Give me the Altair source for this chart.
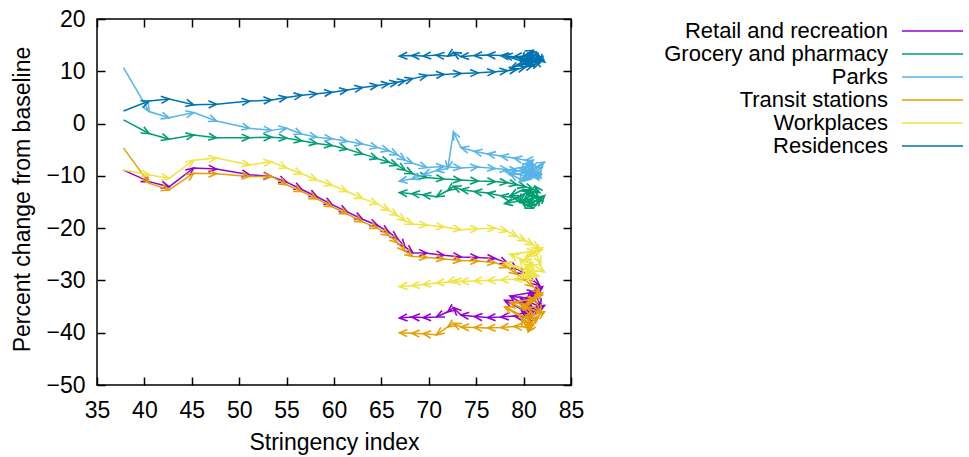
import math

import altair as alt
import pandas as pd

FONT = "Liberation Sans"
W, H = 474, 366
X_DOMAIN = [35, 85]
Y_DOMAIN = [-50, 20]
X_TICKS = list(range(35, 86, 5))
Y_TICKS = list(range(-50, 21, 10))

SERIES = ["Retail and recreation", "Grocery and pharmacy", "Parks",
          "Transit stations", "Workplaces", "Residences"]
COLORS = ["#9400d3", "#009e73", "#56b4e9", "#e69f00", "#f0e442", "#0072b2"]

# Stringency index, one value per observation (rising, plateau, easing)
stringency = [
    37.8, 40.5, 42.6, 45.2, 47.6, 51.1, 53.4, 55.0, 56.6, 58.2, 59.8, 61.4, 63.0, 64.6,
    65.8, 66.7, 67.5, 68.3, 69.8, 71.6, 73.4, 75.2, 77.0, 78.3, 79.3, 80.2, 81.0, 81.7,
    81.2, 80.4, 82.0, 80.0, 78.6, 81.2, 81.8, 80.3, 79.6, 81.0, 82.2, 80.1, 78.0, 80.7,
    81.6, 80.5, 79.8, 81.0,
    80.2, 79.0, 77.6, 76.2, 74.8, 73.4, 72.6, 72.0, 70.8, 69.4, 68.2, 66.9,
]

retail = [
    -8.9, -11.1, -12.1, -8.5, -8.7, -9.8, -10.1, -11.2, -12.6, -14.0, -15.5, -16.9, -18.3, -19.5,
    -20.8, -22.0, -23.6, -24.7, -24.8, -25.2, -25.5, -25.6, -25.8, -26.7, -27.8, -28.8, -30.0, -31.0,
    -32.0, -33.5, -31.2, -34.6, -33.0, -32.2, -35.0, -34.0, -33.2, -36.0, -34.8, -35.6, -33.8, -36.4,
    -35.2, -36.8, -35.8, -37.2,
    -37.0, -36.8, -37.0, -37.1, -36.9, -36.6, -35.2, -36.0, -37.0, -37.1, -37.0, -37.2,
]
grocery = [
    0.7, -1.9, -3.0, -2.2, -2.7, -2.7, -2.6, -2.8, -3.3, -3.8, -4.2, -4.9, -5.8, -6.7,
    -7.4, -8.0, -8.9, -9.6, -10.3, -10.6, -10.8, -11.0, -11.1, -11.3, -11.7, -12.1, -12.6, -13.2,
    -12.0, -13.5, -14.8, -12.6, -13.8, -15.6, -14.2, -13.0, -15.0, -16.2, -13.8, -14.6, -15.3, -12.9,
    -14.4, -15.8, -14.9, -15.2,
    -14.8, -14.2, -13.8, -13.3, -13.0, -12.6, -12.0, -12.8, -14.0, -13.6, -13.4, -13.2,
]
parks = [
    10.7, 2.3, 1.1, 2.1, 0.5, -0.9, -1.3, -0.9, -2.0, -2.6, -2.9, -3.4, -3.9, -4.6,
    -5.2, -6.0, -7.0, -7.6, -8.4, -8.2, -8.5, -8.3, -8.6, -8.8, -9.0, -9.4, -9.8, -10.2,
    -9.0, -10.6, -8.2, -11.0, -9.6, -7.8, -10.4, -9.2, -11.2, -8.6, -7.4, -10.0, -9.0, -8.0,
    -10.8, -7.6, -9.4, -7.0,
    -7.0, -6.6, -6.2, -5.8, -5.3, -4.6, -1.6, -8.6, -9.0, -9.8, -10.6, -11.0,
]
transit = [
    -4.7, -11.4, -12.7, -9.5, -9.6, -10.1, -10.1, -11.7, -13.0, -14.4, -15.9, -17.3, -18.8, -20.0,
    -21.4, -22.8, -24.4, -25.4, -25.6, -25.9, -26.2, -26.3, -26.6, -27.5, -28.8, -30.0, -31.2, -32.4,
    -33.0, -34.5, -32.4, -35.6, -34.2, -33.5, -36.2, -35.2, -34.4, -37.4, -36.0, -37.0, -35.0, -38.2,
    -36.8, -39.8, -37.2, -38.6,
    -38.9, -38.8, -39.0, -39.1, -39.0, -38.9, -38.2, -38.9, -40.4, -40.2, -40.1, -40.0,
]
workplaces = [
    -8.9, -9.8, -10.5, -7.0, -6.6, -7.9, -7.3, -8.5, -9.6, -10.8, -11.8, -13.0, -14.3, -15.4,
    -16.6, -17.6, -18.6, -19.2, -19.4, -19.8, -20.3, -20.1, -20.0, -20.6, -21.6, -22.4, -23.2, -23.8,
    -24.6, -25.4, -23.8, -26.2, -25.0, -24.4, -26.8, -27.4, -25.8, -27.0, -28.4, -27.8, -26.6, -28.8,
    -29.2, -28.0, -29.6, -29.3,
    -29.6, -29.8, -29.9, -30.0, -30.1, -30.2, -30.0, -30.3, -30.5, -30.8, -31.0, -31.2,
]
residences = [
    2.4, 4.3, 4.7, 3.6, 3.7, 4.3, 4.5, 5.0, 5.4, 5.7, 6.0, 6.4, 6.9, 7.3,
    7.6, 7.9, 8.2, 8.6, 9.2, 9.4, 9.6, 9.7, 9.9, 10.1, 10.4, 10.8, 11.2, 11.6,
    12.0, 11.0, 12.8, 11.5, 10.5, 13.2, 12.2, 11.0, 12.6, 14.0, 11.8, 12.4, 13.0, 11.4,
    12.9, 13.5, 12.1, 12.8,
    12.9, 12.8, 13.0, 13.1, 13.0, 12.8, 13.6, 12.9, 13.1, 12.9, 13.0, 12.9,
]

values = dict(zip(SERIES, [retail, grocery, parks, transit, workplaces, residences]))

# pixels per data unit, used to orient arrowheads along each segment on screen
px_x = W / (X_DOMAIN[1] - X_DOMAIN[0])
px_y = H / (Y_DOMAIN[1] - Y_DOMAIN[0])

x_scale = alt.Scale(domain=X_DOMAIN, nice=False, zero=False)
y_scale = alt.Scale(domain=Y_DOMAIN, nice=False, zero=False)
color_scale = alt.Scale(domain=SERIES, range=COLORS)
ARROW_HEAD = "M-1,-0.45L0,0L-1,0.45"

layers = []
for name in SERIES:
    ys = values[name]
    path = pd.DataFrame({"step": range(len(ys)), "stringency": stringency,
                         "change": ys, "series": name})
    heads = []
    for i in range(1, len(ys)):
        dx = (stringency[i] - stringency[i - 1]) * px_x
        dy = -(ys[i] - ys[i - 1]) * px_y
        heads.append({"stringency": stringency[i], "change": ys[i], "series": name,
                      "angle": math.degrees(math.atan2(dy, dx)) % 360})
    heads = pd.DataFrame(heads)

    line = alt.Chart(path).mark_line(strokeWidth=1.5).encode(
        x=alt.X("stringency:Q", scale=x_scale, axis=None),
        y=alt.Y("change:Q", scale=y_scale, axis=None),
        order="step:Q",
        color=alt.Color("series:N", scale=color_scale, legend=None),
    )
    tips = alt.Chart(heads).mark_point(
        shape=ARROW_HEAD, filled=False, size=250, strokeWidth=1.6, opacity=1
    ).encode(
        x=alt.X("stringency:Q", scale=x_scale, axis=None),
        y=alt.Y("change:Q", scale=y_scale, axis=None),
        angle=alt.Angle("angle:Q", scale=None),
        color=alt.Color("series:N", scale=color_scale, legend=None),
    )
    layers += [line, tips]

anchor = pd.DataFrame({"stringency": [X_DOMAIN[0]], "change": [Y_DOMAIN[0]]})

# labelled axes: bottom and left
main_axes = alt.Chart(anchor).mark_point(opacity=0, size=1).encode(
    x=alt.X("stringency:Q", scale=x_scale, axis=alt.Axis(
        orient="bottom", values=X_TICKS, ticks=False, tickSize=0, labelPadding=32,
        labelBaseline="alphabetic", labelFlush=False, labelOverlap=False,
        title="Stringency index", titleX=W / 2, titleY=64,
        titleBaseline="alphabetic", titleAlign="center")),
    y=alt.Y("change:Q", scale=y_scale, axis=alt.Axis(
        orient="left", values=Y_TICKS, ticks=False, tickSize=0, labelPadding=12,
        labelFlush=False, labelOverlap=False,
        title="Percent change from baseline", titleAngle=270, titleX=-75, titleY=180,
        titleAlign="center", titleBaseline="middle")),
)

# inward tick marks on all four sides of the frame
tick_axis = dict(labels=False, ticks=True, tickSize=8, title=None)
ticks_a = alt.Chart(anchor).mark_point(opacity=0, size=1).encode(
    x=alt.X("stringency:Q", scale=x_scale,
            axis=alt.Axis(orient="top", offset=-H, values=X_TICKS, **tick_axis)),
    y=alt.Y("change:Q", scale=y_scale,
            axis=alt.Axis(orient="right", offset=-W, values=Y_TICKS, **tick_axis)),
)
ticks_b = alt.Chart(anchor).mark_point(opacity=0, size=1).encode(
    x=alt.X("stringency:Q", scale=x_scale,
            axis=alt.Axis(orient="bottom", offset=-H, values=X_TICKS, **tick_axis)),
    y=alt.Y("change:Q", scale=y_scale,
            axis=alt.Axis(orient="left", offset=-W, values=Y_TICKS, **tick_axis)),
)

# key: right-aligned names with a line sample after each
key_df = pd.DataFrame({"series": SERIES})
key_y = alt.Y("series:N", axis=None,
              scale=alt.Scale(type="point", domain=SERIES, range=[12, 127], padding=0))
key_text = alt.Chart(key_df).mark_text(
    align="right", baseline="middle", font=FONT, fontSize=22, color="black"
).encode(y=key_y, x=alt.value(791), text="series:N")
key_line = alt.Chart(key_df).mark_rule(strokeWidth=1.5).encode(
    y=key_y, x=alt.value(805), x2=alt.value(866),
    color=alt.Color("series:N", scale=color_scale, legend=None),
)

chart = alt.layer(
    main_axes, ticks_a, ticks_b, *layers, key_text, key_line
).resolve_scale(
    y="independent"
).resolve_axis(
    x="independent", y="independent"
).properties(
    width=W, height=H,
    autosize=alt.AutoSizeParams(type="none"),
    padding={"left": 97, "top": 19, "right": 398, "bottom": 72},
).configure_view(
    stroke="black", strokeWidth=1.5
).configure_axis(
    labelFont=FONT, titleFont=FONT, labelFontSize=23, titleFontSize=23,
    labelColor="black", titleColor="black", titleFontWeight="normal",
    grid=False, domain=False, tickColor="black", tickWidth=1.5,
)

chart.save("out.html", embed_options={"renderer": "svg", "actions": False})
